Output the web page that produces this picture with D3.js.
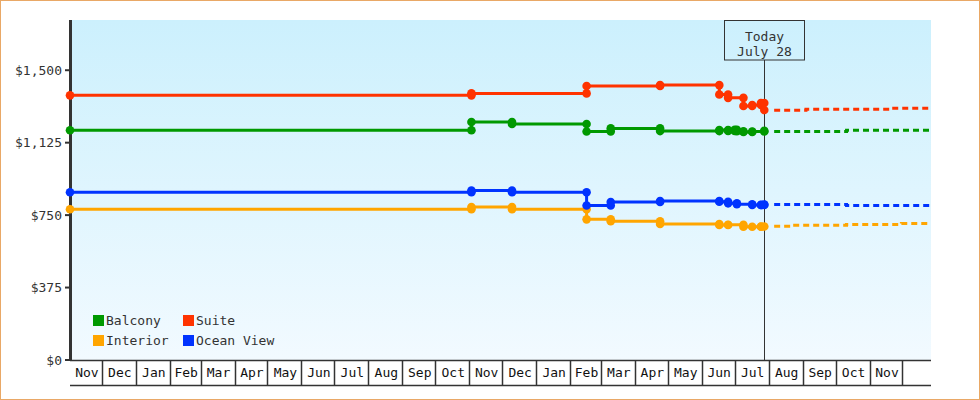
<!DOCTYPE html>
<html>
<head>
<meta charset="utf-8">
<script src="https://cdn.jsdelivr.net/npm/d3@7"></script>
<style>
body { margin: 0; background: #fff; }
svg { display: block; font-family: "DejaVu Sans Mono", monospace; }
</style>
</head>
<body>
<svg width="980" height="400"></svg>
<script>
'use strict';

// observed prices (date, price) per cabin type
var balconyDates = ['2016-11-02','2017-11-03','2017-12-10','2018-02-16','2018-03-10','2018-04-24','2018-06-17','2018-06-25','2018-07-01','2018-07-03','2018-07-09','2018-07-17','2018-07-28'];
var balconyPrices = [1189, 1232, 1222, 1183, 1199, 1185, 1190, 1186, 1192, 1184, 1180, 1183, 1186];

var suiteDates = ['2016-11-02','2017-11-03','2018-02-16','2018-04-24','2018-06-17','2018-06-25','2018-07-09','2018-07-17','2018-07-25','2018-07-28'];
var suitePrices = [1370, 1380, 1418, 1423, 1374, 1357, 1315, 1320, 1330, 1294];

var interiorDates = ['2016-11-02','2017-11-03','2017-12-10','2018-02-16','2018-03-10','2018-04-24','2018-06-17','2018-06-25','2018-07-09','2018-07-17','2018-07-25','2018-07-28'];
var interiorPrices = [780, 792, 780, 728, 718, 704, 699, 700, 690, 690, 691, 691];

var oceanDates = ['2016-11-02','2017-11-03','2017-12-10','2018-02-16','2018-03-10','2018-04-24','2018-06-17','2018-06-25','2018-07-03','2018-07-17','2018-07-25','2018-07-28'];
var oceanPrices = [868, 877, 868, 800, 818, 823, 819, 811, 806, 802, 803, 805];

// projected prices after today
var balconyFcDates = ['2018-08-06','2018-10-11','2018-12-27'];
var balconyFc = [1183, 1189, 1189];
var suiteFcDates = ['2018-08-06','2018-09-04','2018-11-20','2018-12-27'];
var suiteFc = [1293, 1298, 1303, 1303];
var interiorFcDates = ['2018-08-06','2018-08-22','2018-10-11','2018-11-30','2018-12-27'];
var interiorFc = [692, 697, 702, 707, 707];
var oceanFcDates = ['2018-08-06','2018-10-11','2018-12-27'];
var oceanFc = [805, 800, 800];

var yTicks = [0, 375, 750, 1125, 1500];
var monthNames = ['Jan','Feb','Mar','Apr','May','Jun','Jul','Aug','Sep','Oct','Nov','Dec'];
var todayDate = '2018-07-28';
var todayLabel = ['Today', 'July 28'];
var xStart = '2016-11-02', xEnd = '2018-12-27';

var parse = d3.utcParse('%Y-%m-%d');

function zip(dates, prices) {
	return dates.map(function(d, i){ return {date: parse(d), price: prices[i]}; });
}

var series = [
	{name:'Balcony', color:'#009900', obs: zip(balconyDates, balconyPrices), fc: zip(balconyFcDates, balconyFc)},
	{name:'Interior', color:'#ffa500', obs: zip(interiorDates, interiorPrices), fc: zip(interiorFcDates, interiorFc)},
	{name:'Ocean View', color:'#0033ff', obs: zip(oceanDates, oceanPrices), fc: zip(oceanFcDates, oceanFc)},
	{name:'Suite', color:'#ff3300', obs: zip(suiteDates, suitePrices), fc: zip(suiteFcDates, suiteFc)}
];

var plotL = 70, plotR = 931, plotT = 20, plotB = 360;

var x = d3.scaleUtc().domain([parse(xStart), parse(xEnd)]).range([plotL, plotR]);
var y = d3.scaleLinear().domain([0, 1760]).range([plotB, plotT]);

var svg = d3.select('svg');

// outer frame
svg.append('rect').attr('x', 0.5).attr('y', 0.5).attr('width', 979).attr('height', 399)
	.attr('fill', '#fff').attr('stroke', '#e9a866');

// plot background gradient
var grad = svg.append('defs').append('linearGradient')
	.attr('id', 'bg').attr('x1', 0).attr('y1', 0).attr('x2', 0).attr('y2', 1);
grad.append('stop').attr('offset', '0%').attr('stop-color', '#ccf0fd');
grad.append('stop').attr('offset', '100%').attr('stop-color', '#f2faff');
svg.append('rect').attr('x', plotL).attr('y', plotT).attr('width', plotR - plotL).attr('height', plotB - plotT)
	.attr('fill', 'url(#bg)');

// y axis
svg.append('line').attr('x1', plotL + 0.5).attr('x2', plotL + 0.5).attr('y1', plotT).attr('y2', plotB + 1)
	.attr('stroke', '#333').attr('stroke-width', 3);
var yt = svg.selectAll('.ytick').data(yTicks).enter().append('g').attr('class', 'ytick');
yt.append('line').attr('x1', plotL - 5).attr('x2', plotL).attr('y1', function(d){ return y(d); })
	.attr('y2', function(d){ return y(d); }).attr('stroke', '#333').attr('stroke-width', 2);
yt.append('text').attr('x', 62).attr('y', function(d){ return y(d); }).attr('dy', '0.35em')
	.attr('text-anchor', 'end').attr('font-size', 13).attr('fill', '#333')
	.text(function(d){ return d3.format('$,')(d); });

// month row
var x0 = parse(xStart), x1 = parse(xEnd);
var months = d3.utcMonth.range(d3.utcMonth.floor(x0), x1);
svg.append('line').attr('x1', plotL).attr('x2', plotR).attr('y1', plotB + 0.5).attr('y2', plotB + 0.5)
	.attr('stroke', '#333').attr('stroke-width', 1.5);
svg.append('line').attr('x1', plotL).attr('x2', plotR).attr('y1', 385.5).attr('y2', 385.5)
	.attr('stroke', '#333').attr('stroke-width', 1.5);
months.forEach(function(m){
	var next = d3.utcMonth.offset(m, 1);
	var a = Math.max(x(m), plotL), b = Math.min(x(next), plotR);
	if (next < x1) {
		var sx = Math.round(x(next)) + 0.5;
		svg.append('line').attr('x1', sx).attr('x2', sx).attr('y1', plotB).attr('y2', 385)
			.attr('stroke', '#333').attr('stroke-width', 1.5);
		// only months that end inside the range get a label
		svg.append('text').attr('x', (a + b) / 2 + 1).attr('y', 377)
			.attr('text-anchor', 'middle').attr('font-size', 13).attr('fill', '#111')
			.text(monthNames[m.getUTCMonth()]);
	}
});

// today marker
var tx = Math.round(x(parse(todayDate))) + 0.5;
svg.append('line').attr('x1', tx).attr('x2', tx).attr('y1', 60).attr('y2', plotB)
	.attr('stroke', '#333').attr('stroke-width', 1);
svg.append('rect').attr('x', tx - 40).attr('y', 20.5).attr('width', 80).attr('height', 39.5)
	.attr('fill', 'none').attr('stroke', '#333').attr('stroke-width', 1);
svg.selectAll('.today').data(todayLabel).enter().append('text')
	.attr('x', tx).attr('y', function(d, i){ return 41 + i * 14.5; })
	.attr('text-anchor', 'middle').attr('font-size', 13).attr('fill', '#333')
	.text(function(d){ return d; });

// lines
var line = d3.line()
	.x(function(d){ return x(d.date); })
	.y(function(d){ return y(d.price); })
	.curve(d3.curveStepAfter);

series.forEach(function(s){
	svg.append('path').datum(s.fc).attr('d', line).attr('fill', 'none')
		.attr('stroke', s.color).attr('stroke-width', 3).attr('stroke-dasharray', '6,4');
	svg.append('path').datum(s.obs).attr('d', line).attr('fill', 'none')
		.attr('stroke', s.color).attr('stroke-width', 3);
	var pts = [];
	s.obs.forEach(function(d, i){
		if (i > 0 && s.obs[i - 1].price !== d.price) pts.push({date: d.date, price: s.obs[i - 1].price});
		pts.push(d);
	});
	svg.append('g').selectAll('circle').data(pts).enter().append('circle')
		.attr('cx', function(d){ return x(d.date); })
		.attr('cy', function(d){ return y(d.price); })
		.attr('r', 4.3).attr('fill', s.color);
});

// legend
var legendOrder = ['Balcony', 'Suite', 'Interior', 'Ocean View'];
var lg = svg.selectAll('.lg').data(legendOrder).enter().append('g')
	.attr('transform', function(d, i){ return 'translate(' + (93 + (i % 2) * 90) + ',' + (315 + Math.floor(i / 2) * 20) + ')'; });
lg.append('rect').attr('width', 11).attr('height', 11)
	.attr('fill', function(d){ return series.find(function(s){ return s.name === d; }).color; });
lg.append('text').attr('x', 13).attr('y', 10).attr('font-size', 13).attr('fill', '#333')
	.text(function(d){ return d; });
</script>
</body>
</html>
